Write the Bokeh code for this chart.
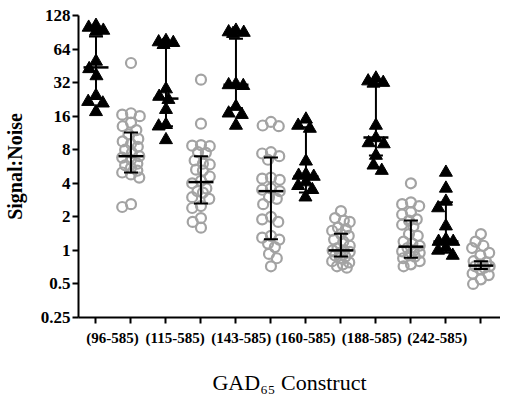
import numpy as np
from bokeh.plotting import figure
from bokeh.models import (ColumnDataSource, FixedTicker, CustomJSTickFormatter,
                          Whisker, TeeHead, Range1d)
from bokeh.embed import file_html
from bokeh.resources import INLINE

# ---------------- data ----------------
constructs = ["(96-585)", "(115-585)", "(143-585)", "(160-585)", "(188-585)", "(242-585)"]
label_pos = [0.47, 2.26, 4.15, 5.99, 7.88, 9.75]

tri_values = [
    [104, 100, 94, 92, 49.6, 42.5, 36.7, 24.4, 21.6, 20.9, 17.5],
    [76, 74, 73, 70, 28, 24, 22.5, 18.3, 13.4, 13.0, 9.8],
    [94, 91, 90, 88, 31, 30.5, 30, 19.5, 17, 16.5, 13.2],
    [15, 13.2, 12.4, 6.3, 4.8, 4.7, 4.6, 4.1, 3.8, 3.5, 3.0],
    [35, 33, 32, 31.5, 13.2, 10.2, 9.2, 9.0, 7.1, 5.8, 5.2],
    [5.0, 3.6, 2.75, 2.4, 1.65, 1.25, 1.2, 1.2, 1.05, 1.0, 0.9],
]
circ_values = [
    [48, 17, 16.5, 16, 14, 13, 12, 11, 10, 9.5, 9, 8.5, 8, 7.5, 7, 6.8, 6.5, 6, 5.8,
     5.5, 5.2, 5, 4.8, 4.5, 2.6, 2.45],
    [34, 13.7, 8.8, 8.7, 8.6, 7.6, 7.5, 6.4, 6.0, 5.9, 5.3, 5.2, 4.6, 4.2, 4.0, 3.6,
     3.4, 3.3, 3.0, 2.9, 2.5, 2.4, 1.95, 1.8, 1.6],
    [14.2, 13.2, 13.0, 7.6, 7.4, 7.0, 6.5, 4.5, 4.4, 4.3, 3.6, 3.5, 3.4, 3.0, 2.9, 2.6,
     2.0, 1.9, 1.8, 1.35, 1.3, 1.25, 1.15, 1.07, 0.93, 0.85, 0.72],
    [2.25, 1.95, 1.85, 1.8, 1.6, 1.55, 1.5, 1.4, 1.35, 1.25, 1.2, 1.1, 1.05, 1.0, 1.0,
     0.97, 0.95, 0.9, 0.88, 0.85, 0.8, 0.78, 0.75, 0.72, 0.7],
    [4.0, 2.7, 2.6, 2.5, 2.2, 2.1, 1.9, 1.85, 1.7, 1.65, 1.4, 1.35, 1.2, 1.15, 1.1, 1.05,
     1.0, 0.98, 0.95, 0.9, 0.88, 0.85, 0.8, 0.75, 0.72],
    [1.4, 1.2, 1.1, 1.05, 0.95, 0.9, 0.8, 0.78, 0.75, 0.72, 0.72, 0.7, 0.68, 0.62, 0.6,
     0.55, 0.5],
]
tri_mid = [43.8, 23.0, 30.6, 4.6, 10.3, 1.2]
tri_lo = [23.1, 13.0, 18.8, 3.3, 7.1, 0.95]
tri_hi = [83, 69, 79, 12.7, 31, 2.7]
circ_mid = [7.0, 4.1, 3.4, 1.0, 1.08, 0.73]
circ_lo = [5.0, 2.64, 1.26, 0.88, 0.86, 0.68]
circ_hi = [11.4, 7.0, 6.8, 1.41, 1.85, 0.8]

y_ticks = [0.25, 0.5, 1, 2, 4, 8, 16, 32, 64, 128]

# ---------------- layout ----------------
W, H = 500, 400
B_LEFT, B_RIGHT, B_TOP, B_BOTTOM = 67, 0, 15, 83
X0, X1 = -0.5, 11.56
Y0, Y1 = 0.25, 128
ppx = (W - B_LEFT - B_RIGHT) / (X1 - X0)
ppy = (H - B_TOP - B_BOTTOM) / np.log2(Y1 / Y0)

SERIF = "Liberation Serif"


def swarm(vals, diam, max_off):
    """deterministic, compact beeswarm offsets (data units)"""
    order = sorted(range(len(vals)), key=lambda i: -vals[i])
    cands = sorted(np.arange(-max_off, max_off + 0.01, 0.5), key=lambda o: (abs(o), o))
    placed, offs = [], [0.0] * len(vals)
    for i in order:
        yp = np.log2(vals[i]) * ppy
        best, best_d = 0.0, -1.0
        for o in cands:
            d = min([np.hypot(o - po, yp - py) for po, py in placed] or [1e9])
            if d >= diam:
                best = o
                break
            if d > best_d + 0.5:
                best, best_d = o, d
        offs[i] = best
        placed.append((best, yp))
    return [o / ppx for o in offs]


tx, ty, cx, cy = [], [], [], []
for g in range(len(constructs)):
    for v, o in zip(tri_values[g], swarm(tri_values[g], 10, 8)):
        tx.append(2 * g + o)
        ty.append(v)
    for v, o in zip(circ_values[g], swarm(circ_values[g], 9, 9)):
        cx.append(2 * g + 1 + o)
        cy.append(v)

p = figure(width=W, height=H, x_range=Range1d(X0, X1), y_range=Range1d(Y0, Y1),
           y_axis_type="log", output_backend="svg", toolbar_location=None,
           min_border_left=B_LEFT, min_border_right=B_RIGHT,
           min_border_top=B_TOP, min_border_bottom=B_BOTTOM)
p.grid.visible = False
p.outline_line_color = None
p.background_fill_color = "white"
p.border_fill_color = "white"

p.scatter(cx, cy, marker="circle", size=10, fill_color=None,
          line_color="#a3a3a3", line_width=2.2)
p.scatter(tx, ty, marker="triangle", size=13, fill_color="black",
          line_color="black", line_width=1)

sx = [2 * g for g in range(len(constructs))] + [2 * g + 1 for g in range(len(constructs))]
summ = ColumnDataSource(dict(x=sx, mid=tri_mid + circ_mid, lo=tri_lo + circ_lo,
                             hi=tri_hi + circ_hi))
p.add_layout(Whisker(source=summ, base="x", upper="hi", lower="lo", level="overlay",
                     line_color="black", line_width=2,
                     upper_head=TeeHead(size=14, line_width=2, line_color="black"),
                     lower_head=TeeHead(size=14, line_width=2, line_color="black")))
p.scatter("x", "mid", source=summ, marker="dash", size=25, line_color="black",
          line_width=2.5, level="overlay")

# y axis
ya = p.yaxis[0]
ya.ticker = FixedTicker(ticks=y_ticks, minor_ticks=[])
ya.formatter = CustomJSTickFormatter(code="return tick.toString();")
ya.axis_line_width = 2
ya.major_tick_line_width = 2
ya.major_tick_out = 6
ya.major_tick_in = 0
ya.minor_tick_out = 0
ya.minor_tick_in = 0
ya.major_label_standoff = 2
ya.major_label_text_font = SERIF
ya.major_label_text_font_style = "bold"
ya.major_label_text_font_size = "17px"
ya.major_label_text_color = "black"
ya.axis_label = "Signal:Noise"
ya.axis_label_text_font = SERIF
ya.axis_label_text_font_style = "bold"
ya.axis_label_text_font_size = "20px"
ya.axis_label_text_color = "black"
ya.axis_label_standoff = 12

# x axis: labels at group label positions, tick marks at every column
xa = p.xaxis[0]
xa.ticker = FixedTicker(ticks=label_pos, minor_ticks=list(range(12)))
xa.formatter = CustomJSTickFormatter(
    args=dict(pos=label_pos, names=constructs),
    code="let b = 0; for (let i = 0; i < pos.length; i++) { if (Math.abs(pos[i] - tick) < 1e-6) b = i; } return names[b];")
xa.axis_line_width = 2
xa.major_tick_out = 0
xa.major_tick_in = 0
xa.minor_tick_out = 6
xa.minor_tick_in = 0
xa.minor_tick_line_width = 2
xa.minor_tick_line_color = "black"
xa.major_label_standoff = 6
xa.major_label_text_font = SERIF
xa.major_label_text_font_style = "bold"
xa.major_label_text_font_size = "15px"
xa.major_label_text_color = "black"
xa.axis_label = "GAD\u2086\u2085 Construct"
xa.axis_label_text_font = SERIF
xa.axis_label_text_font_style = "normal"
xa.axis_label_text_font_size = "22px"
xa.axis_label_text_color = "black"
xa.axis_label_standoff = 21

open("out.html", "w").write(file_html(p, INLINE))
